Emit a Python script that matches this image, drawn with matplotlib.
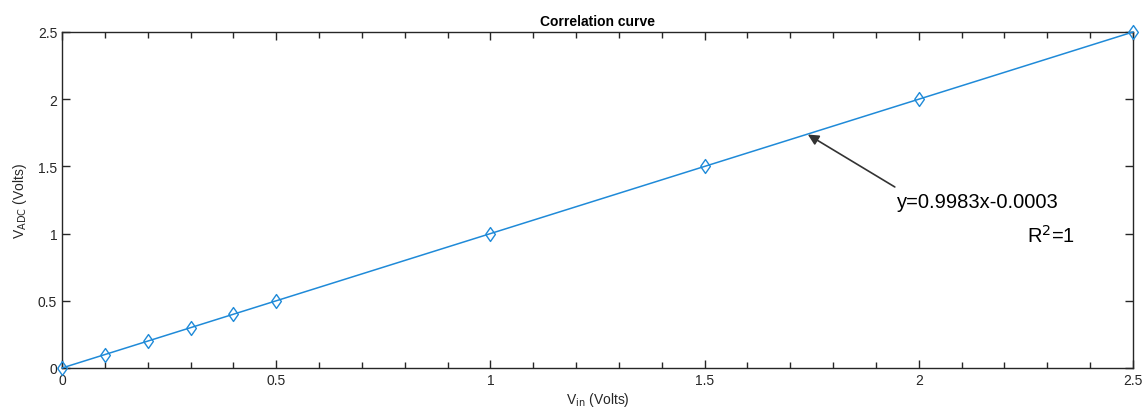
import matplotlib.pyplot as plt
import numpy as np

v_in = [0, 0.1, 0.2, 0.3, 0.4, 0.5, 1.0, 1.5, 2.0, 2.5]
v_adc = [0, 0.1, 0.2, 0.3, 0.4, 0.5, 1.0, 1.5, 2.0, 2.5]
fit_text = "y=0.9983x-0.0003"
r2_text = "R$^2$=1"

plt.rcParams['font.family'] = ['Liberation Sans', 'DejaVu Sans']

fig = plt.figure(figsize=(11.47, 4.14), dpi=100)
ax = fig.add_axes([62/1147, 45/414, 1071/1147, 336/414])

# matlab-style diamond
diamond = [(-0.7, 0), (0, 1), (0.7, 0), (0, -1), (-0.7, 0)]
ax.plot(v_in, v_adc, color='#1f8ad8', lw=1.1, marker=diamond, markersize=10,
        markerfacecolor='none', markeredgecolor='#1f8ad8', markeredgewidth=1.0,
        clip_on=False, zorder=3)

ax.set_xlim(0, 2.5)
ax.set_ylim(0, 2.5)
ax.set_xticks([0, 0.5, 1, 1.5, 2, 2.5])
ax.set_xticklabels(['0', '0.5', '1', '1.5', '2', '2.5'])
ax.set_xticks(np.arange(0, 2.51, 0.1), minor=True)
ax.set_yticks([0, 0.5, 1, 1.5, 2, 2.5])
ax.set_yticklabels(['0', '0.5', '1', '1.5', '2', '2.5'])
ax.tick_params(which='both', direction='in', top=True, right=True,
               labelsize=10, colors='#262626', width=1.0)
ax.tick_params(which='major', length=6)
ax.tick_params(which='minor', length=4)
for s in ax.spines.values():
    s.set_color('#262626')
    s.set_linewidth(1.0)

ax.set_title('Correlation curve', fontsize=10, fontweight='bold', pad=5)
ax.set_xlabel('V$_{\\mathrm{in}}$ (Volts)', fontsize=10, color='#262626', labelpad=2)
ax.set_ylabel('V$_{\\mathrm{ADC}}$ (Volts)', fontsize=10, color='#262626', labelpad=6)

ax.annotate('', xy=(1.741, 1.737), xytext=(1.944, 1.347),
            arrowprops=dict(arrowstyle='-|>', color='#333333', lw=1.2,
                            mutation_scale=16, shrinkA=0, shrinkB=0))
ax.text(1.95, 1.24, fit_text, fontsize=14.5, ha='left', va='center', color='black')
ax.text(2.365, 0.99, r2_text, fontsize=14.5, ha='right', va='center', color='black')

fig.savefig('out.png', dpi=100)
